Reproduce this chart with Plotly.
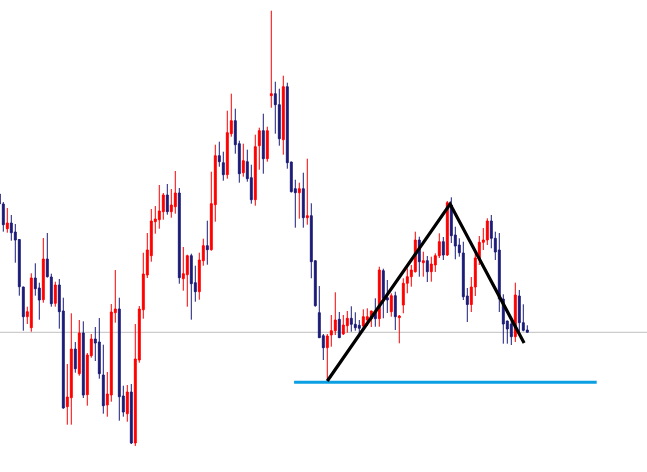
import plotly.graph_objects as go

# Candle index (bar number) and OHLC prices
bars = list(range(-1, 132))

opens = [306, 296, 271.3, 277, 268, 260.5, 213, 183.3, 172.3, 222, 212, 200.3, 241, 223, 196.7, 215,
         189, 93.3, 102.3, 151, 126.3, 167, 105.3, 144.3, 161, 158, 125, 95, 105, 187.3, 191,
         104, 86.3, 108, 57, 140, 190.3, 225, 244.3, 278.3, 280.3, 288.3, 305, 288.3, 293.3, 307,
         221.3, 225.3, 244.3, 217.3, 208.3, 239.3, 254.3, 250.3, 295.3, 344.3, 337.3, 325.3, 366.3, 379.3,
         356.3, 327.3, 338.3, 322.3, 300.3, 354.3, 369.3, 341.3, 404.3, 406.3, 395.3, 360.3, 413.3, 338,
         311.3, 307.3, 311.3, 282.3, 284.3, 239.3, 187.3, 164.3, 152.3, 165, 169.3, 180.7, 166, 174.3,
         181.7, 175.7, 174.7, 174, 180, 181, 188.3, 181.3, 229.3, 202.3, 188.3, 204.3, 182.3, 195,
         216.7, 223.3, 228.3, 260, 237.3, 239.3, 228.3, 235, 244.3, 258.3, 245, 295, 265, 255, 247,
         204, 195.5, 213, 241, 257.7, 260, 279, 261.7, 250, 201, 179, 176, 163.3, 204, 177.3, 170]

highs = [310, 298, 292, 285, 276, 261, 213.3, 193.3, 226.7, 236.7, 217.3, 262, 267, 226.3, 218.3, 221,
         202.3, 136, 186.7, 158, 180, 178.7, 147, 166, 173, 182, 155.3, 128, 196, 230, 202.3,
         114.3, 115, 116, 176, 194, 247.3, 267, 291, 294, 315, 307, 316, 311, 329, 312,
         253, 245.3, 246.3, 234.3, 247.3, 261.3, 279.3, 328.3, 355.3, 358.3, 348.3, 389.3, 406.3, 391.3,
         359.3, 356.3, 350.3, 335.3, 365.3, 372.3, 386.3, 373.3, 489.3, 418.3, 411.3, 424.3, 417.3, 338.3,
         320.3, 317.3, 327.3, 341.3, 296.7, 239.5, 214, 166, 166, 185, 207.7, 188, 185, 189,
         193.7, 187.7, 180, 190.7, 191.7, 189.3, 201.7, 233.3, 231.3, 220, 206.7, 208.3, 185, 221.7,
         231.7, 235, 268.3, 263.3, 248.3, 244, 243.3, 246.7, 266.7, 263, 299, 302.7, 273.3, 261.7, 258.3,
         212, 223, 250, 264, 272, 281.7, 285, 268.3, 267, 205.7, 179.3, 179, 217.3, 210, 195.7, 174.7]

lows = [292, 268.3, 267.3, 259.3, 237.3, 204.3, 169.3, 176, 168.3, 204.3, 180.3, 197.3, 222.5, 193.3, 193.3, 171.3,
        91.3, 75.3, 75.3, 127.3, 124.3, 102, 94.3, 142.3, 139, 121.3, 86.3, 83.3, 98.3, 177.3, 79.3,
        83.3, 78.3, 56, 54, 137.3, 181.3, 222, 238.3, 266.3, 271.3, 280.3, 285.3, 282.3, 286.3, 216.3,
        209.3, 193.3, 180.3, 198.3, 200.3, 234.3, 235.3, 249.3, 278.3, 333.3, 319.3, 321.3, 363.3, 346.3,
        317.3, 323.3, 318.3, 296.3, 294.3, 330.3, 326.3, 338.3, 392.3, 366.3, 354.3, 345.3, 331.3, 307.5,
        272.3, 281.3, 272.3, 275.3, 221.7, 193.3, 162, 140, 119, 153.3, 165, 162, 165, 167.3,
        168.3, 169.3, 165, 170.7, 174, 173, 173.3, 173.3, 181.7, 187, 183.3, 170, 156.7, 186.7,
        206.7, 213.3, 227.5, 223.3, 223.3, 218, 218.3, 228, 242, 240, 244, 257, 240.7, 243.3, 200,
        178, 188, 204, 235, 250, 255, 251.7, 240, 188, 156.3, 156.3, 155, 158, 166.7, 168.7, 167.5]

closes = [296, 275.3, 277, 267.3, 260, 213.3, 183.3, 188.3, 222, 211.3, 200, 241, 223.3, 196.3, 215, 188.3,
          92, 103, 151, 131.3, 167, 105, 145, 161, 157, 126.3, 94.3, 106, 188, 191, 103.3,
          88, 108, 57, 141, 191, 226, 250, 279, 281, 289, 305, 288.3, 295, 307, 222.3,
          226.3, 244.3, 216.3, 208.3, 240, 254.3, 250.3, 296.3, 344.3, 338.3, 325.3, 367.3, 379.3, 355.3,
          326.3, 339.3, 321.3, 300.3, 353.3, 369.3, 341.3, 369.3, 406.3, 395.3, 361.3, 413.3, 337.3, 308.3,
          307.3, 311.3, 282.3, 284.3, 238.3, 194.3, 162.3, 152.3, 164, 169.3, 180, 162.3, 175, 181.7,
          175.7, 172.3, 171.7, 183.3, 183.3, 189, 181.3, 230, 201.7, 200, 204.3, 183.3, 184, 216.7,
          223.3, 230, 260, 238.3, 239.3, 228.3, 236, 244.3, 258.3, 245, 297.3, 264.3, 254, 247.3,
          203.3, 195.5, 213, 242, 257.7, 260, 279, 261.7, 248, 201, 176, 171, 163.3, 205, 177.3, 169.7, 167.7]

# Zigzag (bar position, price)
zigzag_bar = [81, 111.7, 130.2]
zigzag_price = [119, 296, 157]

# Support level (cyan) and reference level (grey)
support_bars = [72.7, 148.35]
support_price = 117.7
ref_price = 167.7

fig = go.Figure()

fig.add_trace(go.Candlestick(
    x=bars, open=opens, high=highs, low=lows, close=closes,
    increasing=dict(line=dict(color="#ff0000", width=1), fillcolor="#ff0000"),
    decreasing=dict(line=dict(color="#1c1c78", width=1), fillcolor="#1c1c78"),
    whiskerwidth=0, showlegend=False, hoverinfo="skip",
))

fig.add_hline(y=ref_price, line=dict(color="#c0c0c0", width=1), layer="below")

fig.add_trace(go.Scatter(
    x=support_bars, y=[support_price, support_price], mode="lines",
    line=dict(color="#0a9fe2", width=3), showlegend=False, hoverinfo="skip",
))

fig.add_trace(go.Scatter(
    x=zigzag_bar, y=zigzag_price, mode="lines",
    line=dict(color="#000000", width=3.2), showlegend=False, hoverinfo="skip",
))

fig.update_layout(
    width=647, height=472,
    margin=dict(l=0, r=0, t=0, b=0),
    paper_bgcolor="white", plot_bgcolor="white",
    boxgap=0.32,
    xaxis=dict(range=[-0.825, 160.925], visible=False, rangeslider=dict(visible=False),
               showgrid=False, zeroline=False),
    yaxis=dict(range=[28, 500], visible=False, showgrid=False, zeroline=False),
)

fig.write_html("out.html", config={"displayModeBar": False},
               post_script="document.body.style.margin='0px';document.body.style.overflow='hidden';")
